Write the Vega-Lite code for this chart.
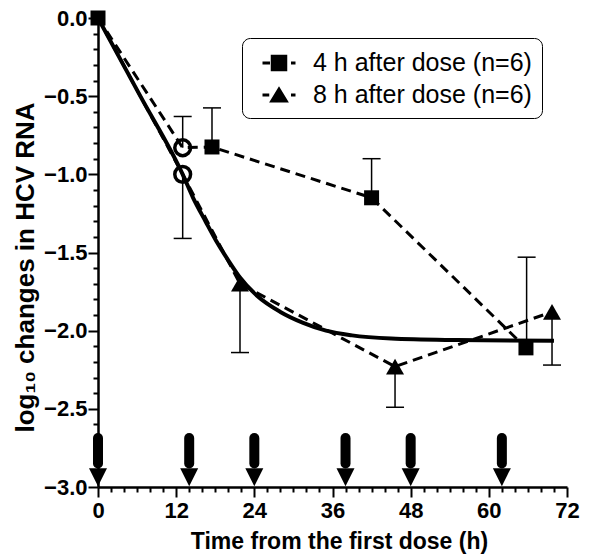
{
  "$schema": "https://vega.github.io/schema/vega-lite/v6.json",
  "width": 469,
  "height": 469,
  "autosize": "none",
  "padding": {"left": 98, "top": 18, "right": 26, "bottom": 71},
  "background": "white",
  "config": {"view": {"stroke": null}, "font": "Liberation Sans"},
  "datasets": {
    "lines": [
      {"series": "4 h", "t": 0, "v": 0},
      {"series": "4 h", "t": 13, "v": -0.83},
      {"series": "4 h", "t": 17.5, "v": -0.825},
      {"series": "4 h", "t": 42, "v": -1.15},
      {"series": "4 h", "t": 65.7, "v": -2.11},
      {"series": "8 h", "t": 0, "v": 0},
      {"series": "8 h", "t": 13, "v": -1.0},
      {"series": "8 h", "t": 21.8, "v": -1.7},
      {"series": "8 h", "t": 45.6, "v": -2.23},
      {"series": "8 h", "t": 69.7, "v": -1.88}
    ],
    "fit": [
      {"t": 0, "v": 0}, {"t": 6.5, "v": -0.5}, {"t": 13, "v": -1.0}, {"t": 14.6, "v": -1.15},
      {"t": 16.5, "v": -1.3}, {"t": 18.2, "v": -1.43}, {"t": 20, "v": -1.55}, {"t": 21.8, "v": -1.66},
      {"t": 24.5, "v": -1.78}, {"t": 28, "v": -1.88}, {"t": 31.5, "v": -1.95}, {"t": 35, "v": -2.0},
      {"t": 39, "v": -2.03}, {"t": 45, "v": -2.05}, {"t": 55, "v": -2.06}, {"t": 70, "v": -2.065}
    ],
    "err": [
      {"t": 13, "v": -0.83, "e": -0.63},
      {"t": 17.5, "v": -0.825, "e": -0.575},
      {"t": 42, "v": -1.15, "e": -0.9},
      {"t": 65.8, "v": -2.11, "e": -1.53},
      {"t": 13, "v": -1.0, "e": -1.41},
      {"t": 21.8, "v": -1.7, "e": -2.14},
      {"t": 45.6, "v": -2.23, "e": -2.49},
      {"t": 69.7, "v": -1.88, "e": -2.22}
    ],
    "circ": [
      {"t": 13, "v": -0.83},
      {"t": 13, "v": -1.0}
    ],
    "sq": [
      {"t": 0, "v": 0},
      {"t": 17.5, "v": -0.825},
      {"t": 42, "v": -1.15},
      {"t": 65.7, "v": -2.11}
    ],
    "tri": [
      {"t": 21.8, "v": -1.7},
      {"t": 45.6, "v": -2.23},
      {"t": 69.7, "v": -1.88}
    ],
    "leg": [
      {"series": "4 h after dose (n=6)", "t": 0, "v": 0},
      {"series": "8 h after dose (n=6)", "t": 0, "v": 0}
    ],
    "doses": [
      {"t": 0}, {"t": 14}, {"t": 24}, {"t": 38}, {"t": 48}, {"t": 62}
    ]
  },
  "encoding": {
    "x": {
      "field": "t", "type": "quantitative",
      "scale": {"domain": [0, 72], "nice": false},
      "title": "Time from the first dose (h)",
      "axis": {
        "values": [0,2,4,6,8,10,12,14,16,18,20,22,24,26,28,30,32,34,36,38,40,42,44,46,48,50,52,54,56,58,60,62,64,66,68,70,72],
        "format": "d",
        "labelExpr": "datum.value % 12 === 0 ? datum.label : ''",
        "tickSize": {"condition": {"test": "datum.value % 12 === 0", "value": 10}, "value": 5},
        "tickWidth": 2, "tickColor": "black",
        "domainColor": "black", "domainWidth": 2.5,
        "grid": false,
        "labelFont": "Liberation Sans", "labelFontWeight": "bold", "labelFontSize": 22, "labelColor": "black",
        "labelPadding": 3, "labelFlush": false, "labelOverlap": false,
        "titleFont": "Liberation Sans", "titleFontWeight": "bold", "titleFontSize": 23, "titleColor": "black",
        "titleX": 241, "titleY": 61, "titleBaseline": "alphabetic", "titleAlign": "center"
      }
    }
  },
  "layer": [
    {
      "data": {"name": "lines"},
      "mark": {"type": "line", "strokeDash": [10, 6], "strokeWidth": 3, "color": "black"},
      "encoding": {
        "y": {
          "field": "v", "type": "quantitative",
          "scale": {"domain": [-3, 0], "nice": false},
          "title": "log₁₀ changes in HCV RNA",
          "axis": {
            "values": [-3,-2.9,-2.8,-2.7,-2.6,-2.5,-2.4,-2.3,-2.2,-2.1,-2,-1.9,-1.8,-1.7,-1.6,-1.5,-1.4,-1.3,-1.2,-1.1,-1,-0.9,-0.8,-0.7,-0.6,-0.5,-0.4,-0.3,-0.2,-0.1,0],
            "format": ".1f",
            "labelExpr": "indexof([-3,-2.5,-2,-1.5,-1,-0.5,0], datum.value) >= 0 ? datum.label : ''",
            "tickSize": {"condition": {"test": "indexof([-3,-2.5,-2,-1.5,-1,-0.5,0], datum.value) >= 0", "value": 10}, "value": 5},
            "tickWidth": 2, "tickColor": "black",
            "domainColor": "black", "domainWidth": 2.5,
            "grid": false,
            "labelFont": "Liberation Sans", "labelFontWeight": "bold", "labelFontSize": 22, "labelColor": "black",
            "labelPadding": 1, "labelFlush": false, "labelOverlap": false,
            "titleFont": "Liberation Sans", "titleFontWeight": "bold", "titleFontSize": 26, "titleColor": "black",
            "titleX": -73, "titleY": 249, "titleAngle": 270, "titleAlign": "center", "titleBaseline": "middle"
          }
        },
        "detail": {"field": "series", "type": "nominal"}
      }
    },
    {
      "data": {"name": "fit"},
      "mark": {"type": "line", "interpolate": "monotone", "strokeWidth": 4, "color": "black"},
      "encoding": {
        "y": {
          "field": "v", "type": "quantitative",
          "scale": {"domain": [-3, 0], "nice": false},
          "title": "log₁₀ changes in HCV RNA",
          "axis": {
            "values": [-3,-2.9,-2.8,-2.7,-2.6,-2.5,-2.4,-2.3,-2.2,-2.1,-2,-1.9,-1.8,-1.7,-1.6,-1.5,-1.4,-1.3,-1.2,-1.1,-1,-0.9,-0.8,-0.7,-0.6,-0.5,-0.4,-0.3,-0.2,-0.1,0],
            "format": ".1f",
            "labelExpr": "indexof([-3,-2.5,-2,-1.5,-1,-0.5,0], datum.value) >= 0 ? datum.label : ''",
            "tickSize": {"condition": {"test": "indexof([-3,-2.5,-2,-1.5,-1,-0.5,0], datum.value) >= 0", "value": 10}, "value": 5},
            "tickWidth": 2, "tickColor": "black",
            "domainColor": "black", "domainWidth": 2.5,
            "grid": false,
            "labelFont": "Liberation Sans", "labelFontWeight": "bold", "labelFontSize": 22, "labelColor": "black",
            "labelPadding": 1, "labelFlush": false, "labelOverlap": false,
            "titleFont": "Liberation Sans", "titleFontWeight": "bold", "titleFontSize": 26, "titleColor": "black",
            "titleX": -73, "titleY": 249, "titleAngle": 270, "titleAlign": "center", "titleBaseline": "middle"
          }
        }
      }
    },
    {
      "data": {"name": "err"},
      "mark": {"type": "rule", "strokeWidth": 1.5, "color": "black"},
      "encoding": {
        "y": {
          "field": "v", "type": "quantitative",
          "scale": {"domain": [-3, 0], "nice": false},
          "title": "log₁₀ changes in HCV RNA",
          "axis": {
            "values": [-3,-2.9,-2.8,-2.7,-2.6,-2.5,-2.4,-2.3,-2.2,-2.1,-2,-1.9,-1.8,-1.7,-1.6,-1.5,-1.4,-1.3,-1.2,-1.1,-1,-0.9,-0.8,-0.7,-0.6,-0.5,-0.4,-0.3,-0.2,-0.1,0],
            "format": ".1f",
            "labelExpr": "indexof([-3,-2.5,-2,-1.5,-1,-0.5,0], datum.value) >= 0 ? datum.label : ''",
            "tickSize": {"condition": {"test": "indexof([-3,-2.5,-2,-1.5,-1,-0.5,0], datum.value) >= 0", "value": 10}, "value": 5},
            "tickWidth": 2, "tickColor": "black",
            "domainColor": "black", "domainWidth": 2.5,
            "grid": false,
            "labelFont": "Liberation Sans", "labelFontWeight": "bold", "labelFontSize": 22, "labelColor": "black",
            "labelPadding": 1, "labelFlush": false, "labelOverlap": false,
            "titleFont": "Liberation Sans", "titleFontWeight": "bold", "titleFontSize": 26, "titleColor": "black",
            "titleX": -73, "titleY": 249, "titleAngle": 270, "titleAlign": "center", "titleBaseline": "middle"
          }
        },
        "y2": {"field": "e"}
      }
    },
    {
      "data": {"name": "err"},
      "mark": {"type": "tick", "orient": "horizontal", "size": 18, "thickness": 1.5, "color": "black", "opacity": 1},
      "encoding": {
        "y": {
          "field": "e", "type": "quantitative",
          "scale": {"domain": [-3, 0], "nice": false},
          "title": "log₁₀ changes in HCV RNA",
          "axis": {
            "values": [-3,-2.9,-2.8,-2.7,-2.6,-2.5,-2.4,-2.3,-2.2,-2.1,-2,-1.9,-1.8,-1.7,-1.6,-1.5,-1.4,-1.3,-1.2,-1.1,-1,-0.9,-0.8,-0.7,-0.6,-0.5,-0.4,-0.3,-0.2,-0.1,0],
            "format": ".1f",
            "labelExpr": "indexof([-3,-2.5,-2,-1.5,-1,-0.5,0], datum.value) >= 0 ? datum.label : ''",
            "tickSize": {"condition": {"test": "indexof([-3,-2.5,-2,-1.5,-1,-0.5,0], datum.value) >= 0", "value": 10}, "value": 5},
            "tickWidth": 2, "tickColor": "black",
            "domainColor": "black", "domainWidth": 2.5,
            "grid": false,
            "labelFont": "Liberation Sans", "labelFontWeight": "bold", "labelFontSize": 22, "labelColor": "black",
            "labelPadding": 1, "labelFlush": false, "labelOverlap": false,
            "titleFont": "Liberation Sans", "titleFontWeight": "bold", "titleFontSize": 26, "titleColor": "black",
            "titleX": -73, "titleY": 249, "titleAngle": 270, "titleAlign": "center", "titleBaseline": "middle"
          }
        }
      }
    },
    {
      "data": {"name": "circ"},
      "mark": {"type": "point", "shape": "circle", "filled": false, "size": 250, "strokeWidth": 3.5, "color": "black", "opacity": 1},
      "encoding": {
        "y": {
          "field": "v", "type": "quantitative",
          "scale": {"domain": [-3, 0], "nice": false},
          "title": "log₁₀ changes in HCV RNA",
          "axis": {
            "values": [-3,-2.9,-2.8,-2.7,-2.6,-2.5,-2.4,-2.3,-2.2,-2.1,-2,-1.9,-1.8,-1.7,-1.6,-1.5,-1.4,-1.3,-1.2,-1.1,-1,-0.9,-0.8,-0.7,-0.6,-0.5,-0.4,-0.3,-0.2,-0.1,0],
            "format": ".1f",
            "labelExpr": "indexof([-3,-2.5,-2,-1.5,-1,-0.5,0], datum.value) >= 0 ? datum.label : ''",
            "tickSize": {"condition": {"test": "indexof([-3,-2.5,-2,-1.5,-1,-0.5,0], datum.value) >= 0", "value": 10}, "value": 5},
            "tickWidth": 2, "tickColor": "black",
            "domainColor": "black", "domainWidth": 2.5,
            "grid": false,
            "labelFont": "Liberation Sans", "labelFontWeight": "bold", "labelFontSize": 22, "labelColor": "black",
            "labelPadding": 1, "labelFlush": false, "labelOverlap": false,
            "titleFont": "Liberation Sans", "titleFontWeight": "bold", "titleFontSize": 26, "titleColor": "black",
            "titleX": -73, "titleY": 249, "titleAngle": 270, "titleAlign": "center", "titleBaseline": "middle"
          }
        }
      }
    },
    {
      "data": {"name": "sq"},
      "mark": {"type": "point", "shape": "square", "size": 225, "filled": true, "color": "black", "opacity": 1},
      "encoding": {
        "y": {
          "field": "v", "type": "quantitative",
          "scale": {"domain": [-3, 0], "nice": false},
          "title": "log₁₀ changes in HCV RNA",
          "axis": {
            "values": [-3,-2.9,-2.8,-2.7,-2.6,-2.5,-2.4,-2.3,-2.2,-2.1,-2,-1.9,-1.8,-1.7,-1.6,-1.5,-1.4,-1.3,-1.2,-1.1,-1,-0.9,-0.8,-0.7,-0.6,-0.5,-0.4,-0.3,-0.2,-0.1,0],
            "format": ".1f",
            "labelExpr": "indexof([-3,-2.5,-2,-1.5,-1,-0.5,0], datum.value) >= 0 ? datum.label : ''",
            "tickSize": {"condition": {"test": "indexof([-3,-2.5,-2,-1.5,-1,-0.5,0], datum.value) >= 0", "value": 10}, "value": 5},
            "tickWidth": 2, "tickColor": "black",
            "domainColor": "black", "domainWidth": 2.5,
            "grid": false,
            "labelFont": "Liberation Sans", "labelFontWeight": "bold", "labelFontSize": 22, "labelColor": "black",
            "labelPadding": 1, "labelFlush": false, "labelOverlap": false,
            "titleFont": "Liberation Sans", "titleFontWeight": "bold", "titleFontSize": 26, "titleColor": "black",
            "titleX": -73, "titleY": 249, "titleAngle": 270, "titleAlign": "center", "titleBaseline": "middle"
          }
        }
      }
    },
    {
      "data": {"name": "tri"},
      "mark": {"type": "point", "shape": "triangle-up", "size": 324, "filled": true, "color": "black", "opacity": 1},
      "encoding": {
        "y": {
          "field": "v", "type": "quantitative",
          "scale": {"domain": [-3, 0], "nice": false},
          "title": "log₁₀ changes in HCV RNA",
          "axis": {
            "values": [-3,-2.9,-2.8,-2.7,-2.6,-2.5,-2.4,-2.3,-2.2,-2.1,-2,-1.9,-1.8,-1.7,-1.6,-1.5,-1.4,-1.3,-1.2,-1.1,-1,-0.9,-0.8,-0.7,-0.6,-0.5,-0.4,-0.3,-0.2,-0.1,0],
            "format": ".1f",
            "labelExpr": "indexof([-3,-2.5,-2,-1.5,-1,-0.5,0], datum.value) >= 0 ? datum.label : ''",
            "tickSize": {"condition": {"test": "indexof([-3,-2.5,-2,-1.5,-1,-0.5,0], datum.value) >= 0", "value": 10}, "value": 5},
            "tickWidth": 2, "tickColor": "black",
            "domainColor": "black", "domainWidth": 2.5,
            "grid": false,
            "labelFont": "Liberation Sans", "labelFontWeight": "bold", "labelFontSize": 22, "labelColor": "black",
            "labelPadding": 1, "labelFlush": false, "labelOverlap": false,
            "titleFont": "Liberation Sans", "titleFontWeight": "bold", "titleFontSize": 26, "titleColor": "black",
            "titleX": -73, "titleY": 249, "titleAngle": 270, "titleAlign": "center", "titleBaseline": "middle"
          }
        }
      }
    },
    {
      "data": {"name": "leg"},
      "mark": {"type": "point", "filled": true, "color": "black", "opacity": 0},
      "encoding": {
        "y": {
          "field": "v", "type": "quantitative",
          "scale": {"domain": [-3, 0], "nice": false},
          "title": "log₁₀ changes in HCV RNA",
          "axis": {
            "values": [-3,-2.9,-2.8,-2.7,-2.6,-2.5,-2.4,-2.3,-2.2,-2.1,-2,-1.9,-1.8,-1.7,-1.6,-1.5,-1.4,-1.3,-1.2,-1.1,-1,-0.9,-0.8,-0.7,-0.6,-0.5,-0.4,-0.3,-0.2,-0.1,0],
            "format": ".1f",
            "labelExpr": "indexof([-3,-2.5,-2,-1.5,-1,-0.5,0], datum.value) >= 0 ? datum.label : ''",
            "tickSize": {"condition": {"test": "indexof([-3,-2.5,-2,-1.5,-1,-0.5,0], datum.value) >= 0", "value": 10}, "value": 5},
            "tickWidth": 2, "tickColor": "black",
            "domainColor": "black", "domainWidth": 2.5,
            "grid": false,
            "labelFont": "Liberation Sans", "labelFontWeight": "bold", "labelFontSize": 22, "labelColor": "black",
            "labelPadding": 1, "labelFlush": false, "labelOverlap": false,
            "titleFont": "Liberation Sans", "titleFontWeight": "bold", "titleFontSize": 26, "titleColor": "black",
            "titleX": -73, "titleY": 249, "titleAngle": 270, "titleAlign": "center", "titleBaseline": "middle"
          }
        },
        "shape": {
          "field": "series", "type": "nominal",
          "scale": {
            "domain": ["4 h after dose (n=6)", "8 h after dose (n=6)"],
            "range": [
              "M-1.1,-0.1H-0.6V0.1H-1.1Z M-0.55,-0.55H0.55V0.55H-0.55Z M0.8,-0.1H1.1V0.1H0.8Z",
              "M-1.1,-0.1H-0.65V0.1H-1.1Z M0,-0.58L0.66,0.5H-0.66Z M0.8,-0.1H1.1V0.1H0.8Z"
            ]
          },
          "legend": {
            "title": null,
            "orient": "none",
            "legendX": 144,
            "legendY": 20,
            "padding": 10,
            "cornerRadius": 8,
            "strokeColor": "black",
            "fillColor": "white",
            "symbolSize": 900,
            "symbolOffset": 12,
            "labelOffset": 19,
            "rowPadding": 4,
            "labelFont": "Liberation Sans",
            "labelFontSize": 25,
            "labelColor": "black",
            "labelLimit": 400,
            "symbolOpacity": 1,
            "symbolFillColor": "black",
            "symbolStrokeWidth": 0
          }
        }
      }
    },
    {
      "data": {"name": "doses"},
      "mark": {"type": "rule", "strokeWidth": 10, "strokeCap": "round", "color": "black"},
      "encoding": {
        "y": {
          "datum": -2.687, "type": "quantitative",
          "scale": {"domain": [-3, 0], "nice": false},
          "title": "log₁₀ changes in HCV RNA",
          "axis": {
            "values": [-3,-2.9,-2.8,-2.7,-2.6,-2.5,-2.4,-2.3,-2.2,-2.1,-2,-1.9,-1.8,-1.7,-1.6,-1.5,-1.4,-1.3,-1.2,-1.1,-1,-0.9,-0.8,-0.7,-0.6,-0.5,-0.4,-0.3,-0.2,-0.1,0],
            "format": ".1f",
            "labelExpr": "indexof([-3,-2.5,-2,-1.5,-1,-0.5,0], datum.value) >= 0 ? datum.label : ''",
            "tickSize": {"condition": {"test": "indexof([-3,-2.5,-2,-1.5,-1,-0.5,0], datum.value) >= 0", "value": 10}, "value": 5},
            "tickWidth": 2, "tickColor": "black",
            "domainColor": "black", "domainWidth": 2.5,
            "grid": false,
            "labelFont": "Liberation Sans", "labelFontWeight": "bold", "labelFontSize": 22, "labelColor": "black",
            "labelPadding": 1, "labelFlush": false, "labelOverlap": false,
            "titleFont": "Liberation Sans", "titleFontWeight": "bold", "titleFontSize": 26, "titleColor": "black",
            "titleX": -73, "titleY": 249, "titleAngle": 270, "titleAlign": "center", "titleBaseline": "middle"
          }
        },
        "y2": {"datum": -2.85}
      }
    },
    {
      "data": {"name": "doses"},
      "mark": {"type": "point", "shape": "M-1,-1H1L0,1Z", "size": 324, "filled": true, "color": "black", "opacity": 1, "strokeWidth": 0},
      "encoding": {
        "y": {
          "datum": -2.937, "type": "quantitative",
          "scale": {"domain": [-3, 0], "nice": false},
          "title": "log₁₀ changes in HCV RNA",
          "axis": {
            "values": [-3,-2.9,-2.8,-2.7,-2.6,-2.5,-2.4,-2.3,-2.2,-2.1,-2,-1.9,-1.8,-1.7,-1.6,-1.5,-1.4,-1.3,-1.2,-1.1,-1,-0.9,-0.8,-0.7,-0.6,-0.5,-0.4,-0.3,-0.2,-0.1,0],
            "format": ".1f",
            "labelExpr": "indexof([-3,-2.5,-2,-1.5,-1,-0.5,0], datum.value) >= 0 ? datum.label : ''",
            "tickSize": {"condition": {"test": "indexof([-3,-2.5,-2,-1.5,-1,-0.5,0], datum.value) >= 0", "value": 10}, "value": 5},
            "tickWidth": 2, "tickColor": "black",
            "domainColor": "black", "domainWidth": 2.5,
            "grid": false,
            "labelFont": "Liberation Sans", "labelFontWeight": "bold", "labelFontSize": 22, "labelColor": "black",
            "labelPadding": 1, "labelFlush": false, "labelOverlap": false,
            "titleFont": "Liberation Sans", "titleFontWeight": "bold", "titleFontSize": 26, "titleColor": "black",
            "titleX": -73, "titleY": 249, "titleAngle": 270, "titleAlign": "center", "titleBaseline": "middle"
          }
        }
      }
    }
  ]
}
